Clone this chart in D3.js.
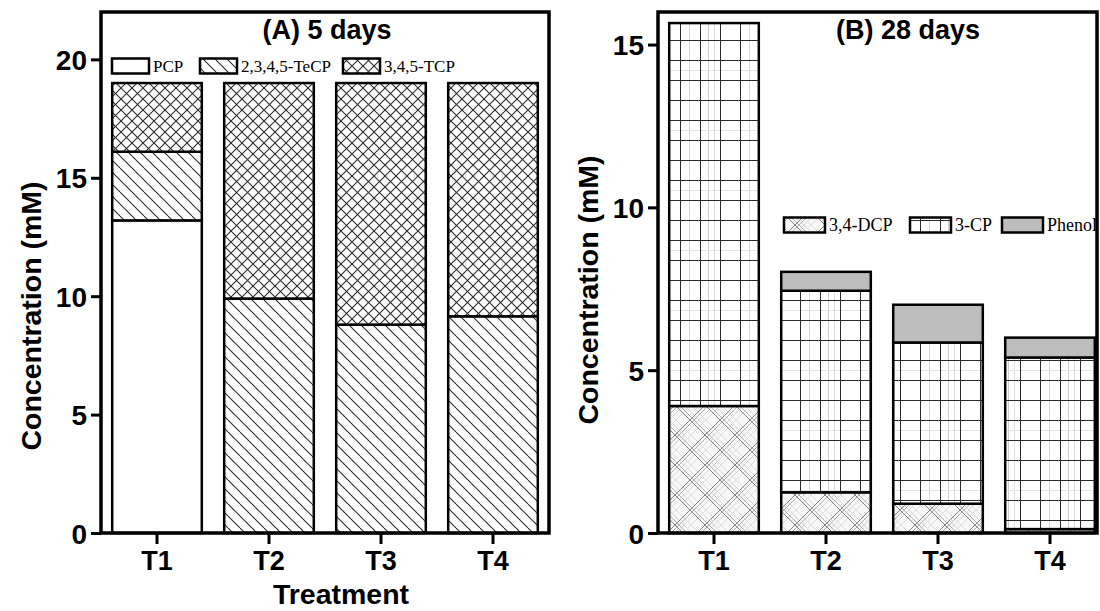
<!DOCTYPE html>
<html><head><meta charset="utf-8">
<script src="https://cdn.jsdelivr.net/npm/d3@7"></script>
<style>
html,body{margin:0;padding:0;background:#fff;}
svg{display:block;}
</style></head>
<body>
<svg id="chart" width="1100" height="611"></svg>
<script>
// ---- data ----
const categories = ["T1", "T2", "T3", "T4"];
// Panel A (5 days)
const seriesA = ["PCP", "2,3,4,5-TeCP", "3,4,5-TCP"];
const pcpA  = [13.2, 0, 0, 0];
const tecpA = [2.9, 9.9, 8.8, 9.15];
const tcpA  = [2.9, 9.1, 10.2, 9.85];
const ticksA = [0, 5, 10, 15, 20];
// Panel B (28 days)
const seriesB = ["3,4-DCP", "3-CP", "Phenol"];
const dcpB    = [3.9, 1.25, 0.9, 0.12];
const cp3B    = [11.76, 6.19, 4.95, 5.27];
const phenolB = [0, 0.58, 1.16, 0.61];
const ticksB = [0, 5, 10, 15];

const svg = d3.select("#chart");
const defs = svg.append("defs");

// ---- patterns ----
function diag(p, size, dir, color, w, off) {
  off = off || 0;
  [-size, 0, size].forEach(k => {
    const x0 = off + k;
    const l = dir > 0
      ? p.append("line").attr("x1", x0).attr("y1", 0).attr("x2", x0 + size).attr("y2", size)
      : p.append("line").attr("x1", x0).attr("y1", size).attr("x2", x0 + size).attr("y2", 0);
    l.attr("stroke", color).attr("stroke-width", w);
  });
}
let p = defs.append("pattern").attr("id", "pTeCP").attr("patternUnits", "userSpaceOnUse").attr("width", 12).attr("height", 12);
p.append("rect").attr("width", 12).attr("height", 12).attr("fill", "#fff");
diag(p, 12, 1, "#2a2a2a", 1.1);

p = defs.append("pattern").attr("id", "pTCP").attr("patternUnits", "userSpaceOnUse").attr("width", 11).attr("height", 11);
p.append("rect").attr("width", 11).attr("height", 11).attr("fill", "#fff");
diag(p, 11, 1, "#2a2a2a", 1.1);
diag(p, 11, -1, "#2a2a2a", 1.1);

// 3,4-DCP: light criss-cross diagonals with a few darker lines
p = defs.append("pattern").attr("id", "pDCP").attr("patternUnits", "userSpaceOnUse").attr("width", 30).attr("height", 30);
p.append("rect").attr("width", 30).attr("height", 30).attr("fill", "#f7f7f7");
diag(p, 30, 1, "#d4d4d4", 0.9, 9);
diag(p, 30, -1, "#d4d4d4", 0.9, 9);
diag(p, 30, 1, "#dadada", 0.9, 16);
diag(p, 30, -1, "#dadada", 0.9, 16);
diag(p, 30, 1, "#777", 0.9, 0);
diag(p, 30, -1, "#777", 0.9, 0);
diag(p, 30, 1, "#aaa", 0.9, 4);
diag(p, 30, -1, "#aaa", 0.9, 4);

// 3-CP: grid of dark and light lines
p = defs.append("pattern").attr("id", "pCP").attr("patternUnits", "userSpaceOnUse").attr("width", 60).attr("height", 60);
p.append("rect").attr("width", 60).attr("height", 60).attr("fill", "#fff");
[[29, "#d6d6d6"], [48, "#cccccc"], [54, "#dcdcdc"]].forEach(([o, c]) =>
  p.append("line").attr("x1", o + 0.5).attr("y1", 0).attr("x2", o + 0.5).attr("y2", 60).attr("stroke", c).attr("stroke-width", 1));
[[10, "#e4e4e4"]].forEach(([o, c]) =>
  p.append("line").attr("x1", 0).attr("y1", o + 0.5).attr("x2", 60).attr("y2", o + 0.5).attr("stroke", c).attr("stroke-width", 1));
[0, 20, 40].forEach(o =>
  p.append("line").attr("x1", o + 0.5).attr("y1", 0).attr("x2", o + 0.5).attr("y2", 60).attr("stroke", "#2a2a2a").attr("stroke-width", 1));
[0, 20, 40].forEach(o =>
  p.append("line").attr("x1", 0).attr("y1", o + 0.5).attr("x2", 60).attr("y2", o + 0.5).attr("stroke", "#2a2a2a").attr("stroke-width", 1));

const fillA = ["#ffffff", "url(#pTeCP)", "url(#pTCP)"];
const fillB = ["url(#pDCP)", "url(#pCP)", "#bdbdbd"];

const sansBold = "'Liberation Sans', Arial, sans-serif";
const serif = "'Liberation Serif', 'Times New Roman', serif";

function panel(cfg) {
  const g = svg.append("g");
  const x = d3.scaleBand().domain(categories).range(cfg.xRange).paddingInner(0.2).paddingOuter(0.1);
  const y = d3.scaleLinear().domain(cfg.yDomain).range([cfg.bottom, cfg.top]);

  const table = categories.map((c, i) => {
    const o = { cat: c };
    cfg.series.forEach((s, j) => o[s] = cfg.values[j][i]);
    return o;
  });
  const stacked = d3.stack().keys(cfg.series)(table);

  stacked.forEach((layer, j) => {
    g.append("g").selectAll("rect").data(layer.filter(d => d[1] - d[0] > 0)).join("rect")
      .attr("x", d => x(d.data.cat))
      .attr("width", x.bandwidth())
      .attr("y", d => y(d[1]))
      .attr("height", d => y(d[0]) - y(d[1]))
      .attr("fill", cfg.fills[j])
      .attr("stroke", "#000")
      .attr("stroke-width", 2.5);
  });

  // frame
  g.append("rect").attr("x", cfg.frame[0]).attr("y", cfg.top)
    .attr("width", cfg.frame[1] - cfg.frame[0]).attr("height", cfg.bottom - cfg.top)
    .attr("fill", "none").attr("stroke", "#000").attr("stroke-width", 3.5);

  // y axis
  const ya = g.append("g").attr("transform", `translate(${cfg.frame[0]},0)`)
    .call(d3.axisLeft(y).tickValues(cfg.ticks).tickSize(10).tickPadding(4).tickFormat(d3.format("d")));
  ya.select(".domain").remove();
  ya.selectAll(".tick line").attr("stroke-width", 3);
  ya.selectAll("text").attr("font-family", sansBold).attr("font-weight", "bold").attr("font-size", 28).attr("fill", "#000").attr("dy", "0.36em");

  // x axis
  const xa = g.append("g").attr("transform", `translate(0,${cfg.bottom})`)
    .call(d3.axisBottom(x).tickSize(11).tickPadding(7));
  xa.select(".domain").remove();
  xa.selectAll(".tick line").attr("stroke-width", 3);
  xa.selectAll("text").attr("font-family", sansBold).attr("font-weight", "bold").attr("font-size", 27).attr("fill", "#000");

  // title
  g.append("text").attr("x", cfg.titlePos[0]).attr("y", cfg.titlePos[1]).attr("text-anchor", "middle")
    .attr("font-family", sansBold).attr("font-weight", "bold").attr("font-size", 27).text(cfg.title);

  // y label
  g.append("text").attr("transform", `translate(${cfg.ylabPos[0]},${cfg.ylabPos[1]}) rotate(-90)`)
    .attr("text-anchor", "middle").attr("font-family", sansBold).attr("font-weight", "bold").attr("font-size", 28.5)
    .text("Concentration (mM)");

  // legend
  const lg = g.append("g");
  cfg.series.forEach((s, j) => {
    const lx = cfg.legendX[j];
    lg.append("rect").attr("x", lx).attr("y", cfg.legendY - cfg.legendBox[1] / 2)
      .attr("width", cfg.legendBox[0]).attr("height", cfg.legendBox[1])
      .attr("fill", cfg.fills[j]).attr("stroke", "#000").attr("stroke-width", 2.5);
    lg.append("text").attr("x", lx + cfg.legendBox[0] + 4).attr("y", cfg.legendY).attr("dy", "0.35em")
      .attr("font-family", serif).attr("font-size", cfg.legendFont).text(s);
  });
  return g;
}

panel({
  series: seriesA, values: [pcpA, tecpA, tcpA], fills: fillA,
  xRange: [101, 549], frame: [101, 549], top: 12, bottom: 533, yDomain: [0, 22], ticks: ticksA,
  title: "(A) 5 days", titlePos: [327, 39], ylabPos: [41, 316],
  legendX: [112, 200, 343], legendY: 66, legendBox: [37, 15], legendFont: 17
});
panel({
  series: seriesB, values: [dcpB, cp3B, phenolB], fills: fillB,
  xRange: [658, 1106], frame: [658, 1097], top: 12, bottom: 533, yDomain: [0, 16], ticks: ticksB,
  title: "(B) 28 days", titlePos: [908, 39], ylabPos: [598, 290],
  legendX: [784, 910, 1002], legendY: 225, legendBox: [41, 15], legendFont: 18
});

svg.append("text").attr("x", 341).attr("y", 604).attr("text-anchor", "middle")
  .attr("font-family", sansBold).attr("font-weight", "bold").attr("font-size", 28.5).text("Treatment");
</script>
</body></html>
